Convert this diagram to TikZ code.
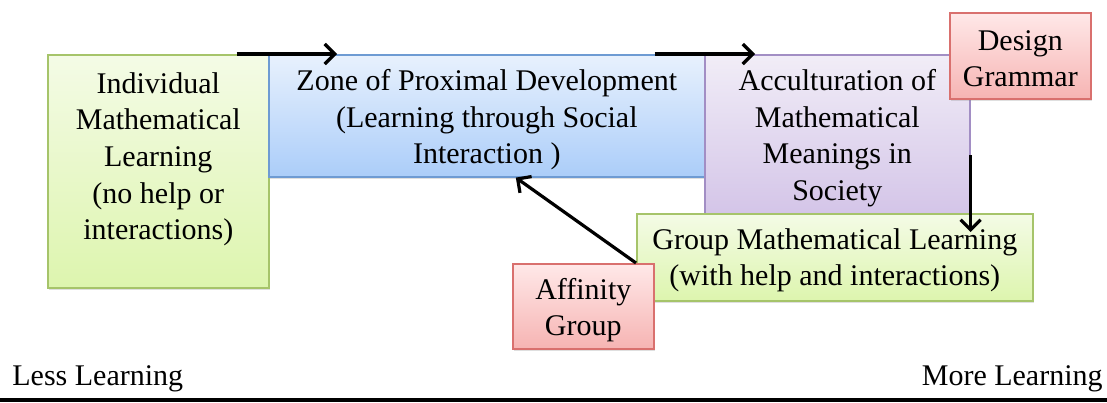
\documentclass[tikz,border=0pt]{standalone}
\usepackage{fontspec}
\setmainfont{Liberation Serif}
\usetikzlibrary{positioning,calc,shadows,arrows.meta}

\definecolor{greenline}{HTML}{A6C46A}
\definecolor{greentop}{HTML}{F4FBE6}
\definecolor{greenbot}{HTML}{DDF5AE}
\definecolor{blueline}{HTML}{6E9BD3}
\definecolor{bluetop}{HTML}{E8F1FD}
\definecolor{bluebot}{HTML}{ABCDF9}
\definecolor{purpleline}{HTML}{A28EC4}
\definecolor{purpletop}{HTML}{F1EDF7}
\definecolor{purplebot}{HTML}{D4C5E8}
\definecolor{redline}{HTML}{D9706E}
\definecolor{redtop}{HTML}{FFE8E8}
\definecolor{redbot}{HTML}{F6B4B3}

\tikzset{
  txt/.style = {align=center, inner sep=0pt},
  box/.style = {rectangle, line width=0.8pt, anchor=north west,
                drop shadow={shadow xshift=0.8pt, shadow yshift=-1.2pt, opacity=0.25}},
  greenbox/.style  = {box, draw=greenline, top color=greentop, bottom color=greenbot},
  bluebox/.style   = {box, draw=blueline, top color=bluetop, bottom color=bluebot},
  purplebox/.style = {box, draw=purpleline, top color=purpletop, bottom color=purplebot},
  redbox/.style    = {box, draw=redline, top color=redtop, bottom color=redbot},
  arrow/.style = {line width=1.6pt, -{Straight Barb[length=5pt,width=10pt,line width=1.6pt]}}
}

\begin{document}
\begin{tikzpicture}[x=0.5pt, y=-0.5pt, font=\fontsize{15pt}{18.3pt}\selectfont]
\useasboundingbox (0,0) rectangle (1107,402);

% stages of learning
\node[greenbox, minimum width=110.5pt, minimum height=116.5pt] (indiv) at (47,54) {};
\node[txt] (indivtext) at ($(indiv.center)+(0,-12)$)
  {Individual\\Mathematical\\Learning\\(no help or\\interactions)};
\node[bluebox, minimum width=218pt, minimum height=61pt] (zone) at (268,54) {};
\node[txt] (zonetext) at ($(zone.center)+(0,4)$)
  {Zone of Proximal Development\\(Learning through Social\\Interaction )};
\node[purplebox, minimum width=132.5pt, minimum height=79.5pt] (accult) at (704,54) {};
\node[txt] (acculttext) at ($(accult.center)+(0,4)$)
  {Acculturation of\\Mathematical\\Meanings in\\Society};
\node[redbox, minimum width=70.5pt, minimum height=43pt] (design) at (949,12) {};
\node[txt] (designtext) at ($(design.center)+(0,3)$) {Design\\Grammar};
\node[greenbox, minimum width=198pt, minimum height=43.5pt] (group) at (636,213) {};
\node[txt] (grouptext) at ($(group.center)+(0,3)$)
  {Group Mathematical Learning\\(with help and interactions)};
\node[redbox, minimum width=70.5pt, minimum height=42.5pt] (affinity) at (512,263) {};
\node[txt] (affinitytext) at ($(affinity.center)+(0,4)$) {Affinity\\Group};

% scale
\node[anchor=base west, inner sep=0pt] (less) at (12,385) {Less Learning};
\node[anchor=base east, inner sep=0pt] (more) at (1103,385) {More Learning};
\coordinate (axisl) at (0,400);
\coordinate (axisr) at (1107,400);
\draw[line width=1.8pt] (axisl) -- (axisr);

% arrows
\draw[arrow] ([xshift=-16.5pt]indiv.north east) -- ([xshift=34.5pt]zone.north west);
\draw[arrow] ([xshift=-25.5pt]zone.north east) -- ([xshift=25.5pt]accult.north west);
\draw[arrow] ([yshift=-50.5pt]accult.north east) -- ($(accult.east |- group.north)+(0,19)$);
\draw[arrow] (group.west |- affinity.north) -- ([xshift=14.5pt]zone.south);
\end{tikzpicture}
\end{document}
